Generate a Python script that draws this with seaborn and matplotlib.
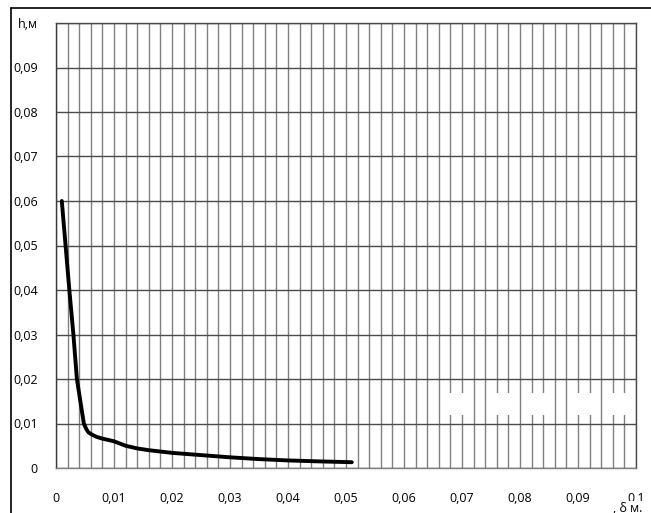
import matplotlib
matplotlib.use("Agg")
import matplotlib.pyplot as plt
from matplotlib.lines import Line2D
from matplotlib.patches import Rectangle
from matplotlib.ticker import MultipleLocator
import seaborn as sns
import pandas as pd

# Data
delta = [0.001, 0.00165, 0.0023, 0.0030, 0.0036, 0.0042, 0.0048, 0.0052, 0.0056,
         0.0062, 0.0070, 0.0080, 0.0090, 0.0100, 0.0110, 0.0120, 0.0140, 0.0160,
         0.0180, 0.0200, 0.0250, 0.0300, 0.0350, 0.0400, 0.0450, 0.0510]
h = [0.060, 0.050, 0.040, 0.030, 0.020, 0.015, 0.0100, 0.0088, 0.0080,
     0.0075, 0.0070, 0.0066, 0.0063, 0.0060, 0.0055, 0.0050, 0.0044, 0.0040,
     0.0037, 0.0034, 0.0029, 0.0024, 0.0020, 0.0017, 0.0015, 0.0013]

x_ticks = [0, 0.01, 0.02, 0.03, 0.04, 0.05, 0.06, 0.07, 0.08, 0.09, 0.1]
x_tick_labels = ["0", "0,01", "0,02", "0,03", "0,04", "0,05", "0,06", "0,07", "0,08", "0,09", "0,1"]
y_ticks = [0, 0.01, 0.02, 0.03, 0.04, 0.05, 0.06, 0.07, 0.08, 0.09, 0.1]
y_tick_labels = ["0", "0,01", "0,02", "0,03", "0,04", "0,05", "0,06", "0,07", "0,08", "0,09", "h,м"]
x_axis_label = ", δ м."

df = pd.DataFrame({"delta": delta, "h": h})

sns.set_style("white")
plt.rcParams["font.family"] = ["Open Sans", "DejaVu Sans"]

W, H = 651, 513
fig = plt.figure(figsize=(W / 100, H / 100), dpi=100)
ax = fig.add_axes([56 / W, 1 - 468 / H, (636 - 56) / W, (468 - 23) / H])

sns.lineplot(data=df, x="delta", y="h", ax=ax, color="black", linewidth=2.8,
             zorder=5)

ax.set_xlim(0, 0.1)
ax.set_ylim(0, 0.1)
ax.set_xticks(x_ticks)
ax.set_xticklabels(x_tick_labels)
ax.set_yticks(y_ticks)
ax.set_yticklabels(y_tick_labels)
ax.xaxis.set_minor_locator(MultipleLocator(0.002))
ax.set_xlabel("")
ax.set_ylabel("")

ax.grid(True, which="major", axis="y", color="#4a4a4a", linewidth=1.0)
ax.grid(True, which="both", axis="x", color="#808080", linewidth=1.0)
ax.set_axisbelow(True)

for side, col in [("left", "#3a3a3a"), ("bottom", "#808080"),
                  ("top", "#4a4a4a"), ("right", "#4a4a4a")]:
    ax.spines[side].set_visible(True)
    ax.spines[side].set_color(col)
    ax.spines[side].set_linewidth(1.0)

ax.tick_params(axis="x", which="major", direction="out", length=6, width=1,
               color="#555555", pad=11, labelsize=9, labelcolor="black")
ax.tick_params(axis="x", which="minor", length=0)
ax.tick_params(axis="y", which="major", direction="out", length=5, width=1,
               color="#555555", pad=8, labelsize=9, labelcolor="black")

# white erased patches (as in the reference)
for x0 in [0.067, 0.075, 0.081, 0.089, 0.095]:
    ax.add_patch(Rectangle((x0, 0.0119), 0.0042, 0.0049, facecolor="white",
                           edgecolor="none", zorder=3))

# figure frame lines (top and left)
fig.add_artist(Line2D([11 / W, 1], [1 - 8 / H, 1 - 8 / H], color="black",
                      linewidth=1.2, transform=fig.transFigure))
fig.add_artist(Line2D([11 / W, 11 / W], [0, 1 - 8 / H], color="black",
                      linewidth=1.2, transform=fig.transFigure))

fig.text(628 / W, 1 - 508 / H, x_axis_label, ha="center", va="center",
         fontsize=9, color="black", zorder=10,
         bbox=dict(facecolor="white", edgecolor="none", pad=0.5))

fig.savefig("out.png", dpi=100, facecolor="white")
